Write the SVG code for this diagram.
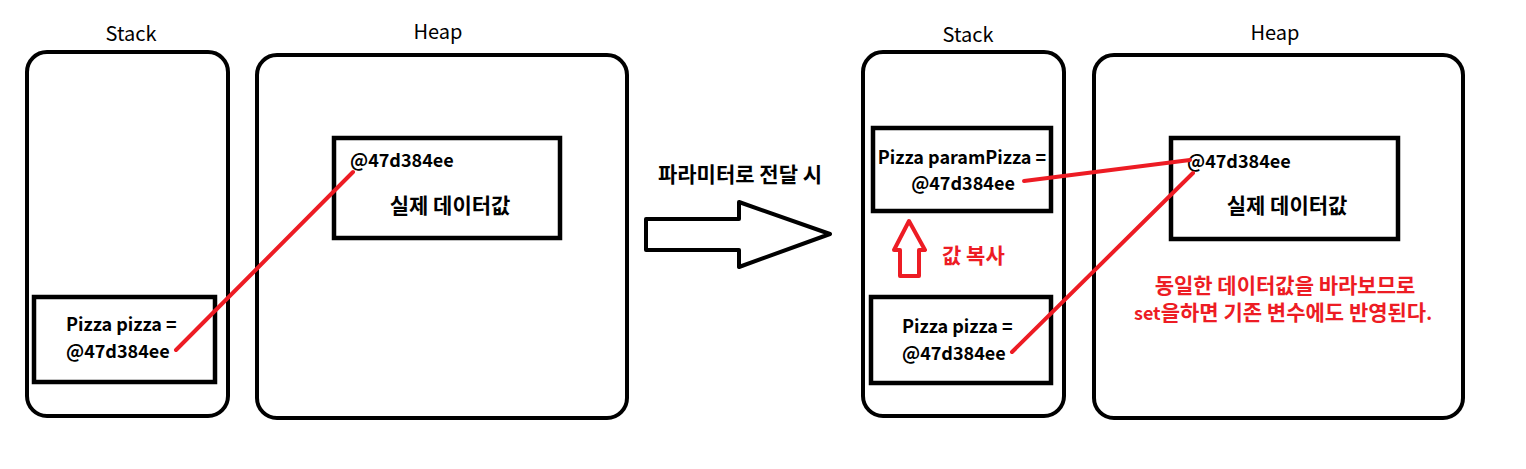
<svg xmlns="http://www.w3.org/2000/svg" width="1526" height="469" viewBox="0 0 1526 469">
<style>
.frame{fill:none;stroke:#000;stroke-width:4}
.box{fill:none;stroke:#000;stroke-width:4.5}
.t{font-family:"Noto Sans CJK KR","Noto Sans",sans-serif;font-size:18px;font-weight:bold;fill:#000}
.k{font-family:"Noto Sans CJK KR","Noto Sans",sans-serif;font-size:21px;font-weight:bold;fill:#000}
.r{fill:#ED1C24}
.ttl{font-family:"Noto Sans CJK KR","Noto Sans",sans-serif;font-size:20px;fill:#000;text-anchor:middle}
.link{stroke:#ED1C24;stroke-width:4;fill:none;stroke-linecap:round}
</style>
<rect width="1526" height="469" fill="#fff"/>
<g id="left-stack">
<text class="ttl" x="131" y="41">Stack</text>
<rect class="frame" x="27" y="52" width="201" height="364" rx="20"/>
</g>
<g id="left-heap">
<text class="ttl" x="438" y="39">Heap</text>
<rect class="frame" x="257" y="55" width="370" height="363" rx="20"/>
</g>
<g id="left-pizza">
<rect class="box" x="34" y="297" width="181" height="85"/>
<text class="t" x="66" y="331">Pizza pizza =</text>
<text class="t" x="66" y="358">@47d384ee</text>
</g>
<g id="left-object">
<rect class="box" x="334" y="138" width="226" height="100"/>
<text class="t" x="350" y="167">@47d384ee</text>
<text class="k" x="450" y="213" text-anchor="middle">실제 데이터값</text>
</g>
<g id="transition">
<text class="k" x="740" y="182" text-anchor="middle">파라미터로 전달 시</text>
<polygon points="646,219 739,219 739,202 830,234 739,267 739,250 646,250" fill="none" stroke="#000" stroke-width="4" stroke-linejoin="round"/>
</g>
<g id="right-stack">
<text class="ttl" x="968" y="42">Stack</text>
<rect class="frame" x="863" y="52" width="201" height="364" rx="20"/>
</g>
<g id="right-heap">
<text class="ttl" x="1275" y="40">Heap</text>
<rect class="frame" x="1094" y="55" width="369" height="363" rx="20"/>
</g>
<g id="right-param">
<rect class="box" x="873" y="128" width="178" height="83"/>
<text class="t" x="962" y="164" text-anchor="middle">Pizza paramPizza =</text>
<text class="t" x="963" y="190" text-anchor="middle">@47d384ee</text>
</g>
<g id="copy">
<polygon points="909,221 925,250 919,250 919,276 900,276 900,250 894,250" fill="none" stroke="#ED1C24" stroke-width="4" stroke-linejoin="round"/>
<text class="k r" x="942" y="263">값 복사</text>
</g>
<g id="right-pizza">
<rect class="box" x="871" y="297" width="180" height="86"/>
<text class="t" x="902" y="333">Pizza pizza =</text>
<text class="t" x="902" y="360">@47d384ee</text>
</g>
<g id="right-object">
<rect class="box" x="1171" y="138" width="227" height="101"/>
<text class="t" x="1187" y="168">@47d384ee</text>
<text class="k" x="1287" y="213" text-anchor="middle">실제 데이터값</text>
</g>
<g id="note">
<text class="k r" x="1285" y="293" text-anchor="middle">동일한 데이터값을 바라보므로</text>
<text class="k r" x="1283" y="320" text-anchor="middle"><tspan style="font-size:18px">set</tspan>을하면 기존 변수에도 반영된다<tspan style="font-size:18px">.</tspan></text>
</g>
<g id="connectors">
<line class="link" x1="176" y1="350" x2="353" y2="172"/>
<line class="link" x1="1024" y1="181" x2="1190" y2="160"/>
<line class="link" x1="1012" y1="352" x2="1193" y2="173"/>
</g>
</svg>
